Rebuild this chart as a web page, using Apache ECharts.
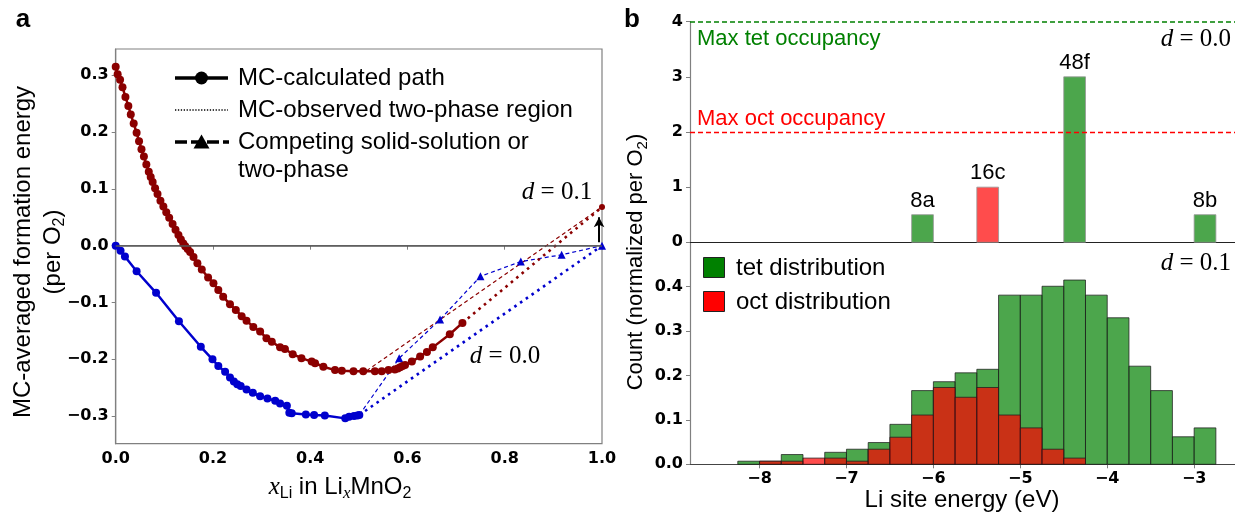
<!DOCTYPE html>
<html>
<head>
<meta charset="utf-8">
<script src="https://cdn.jsdelivr.net/npm/echarts@6/dist/echarts.min.js"></script>
<style>
  html, body { margin: 0; padding: 0; background: #fff; }
  #chart { width: 1235px; height: 516px; }
</style>
</head>
<body>
<div id="chart"></div>
<script>
// ---------- Panel a: MC-averaged formation energy vs Li content ----------
const redPath = [
  [0.000, 0.315], [0.004, 0.302], [0.009, 0.292], [0.014, 0.279], [0.020, 0.262],
  [0.026, 0.246], [0.031, 0.231], [0.037, 0.215], [0.043, 0.199], [0.048, 0.184],
  [0.053, 0.170], [0.058, 0.157], [0.063, 0.143], [0.068, 0.130], [0.072, 0.121],
  [0.076, 0.112], [0.081, 0.101], [0.086, 0.091], [0.092, 0.079], [0.098, 0.069],
  [0.104, 0.059], [0.110, 0.049], [0.117, 0.038], [0.123, 0.028], [0.129, 0.019],
  [0.134, 0.011], [0.139, 0.004], [0.143, -0.001], [0.148, -0.006], [0.153, -0.011],
  [0.160, -0.020], [0.168, -0.031], [0.177, -0.042], [0.190, -0.056], [0.201, -0.066],
  [0.211, -0.078], [0.221, -0.090], [0.235, -0.103], [0.247, -0.113], [0.259, -0.124],
  [0.269, -0.132], [0.283, -0.143], [0.297, -0.151], [0.310, -0.163], [0.321, -0.169],
  [0.338, -0.179], [0.348, -0.182], [0.364, -0.191], [0.382, -0.198], [0.403, -0.204],
  [0.410, -0.207], [0.427, -0.213], [0.451, -0.219], [0.465, -0.220], [0.489, -0.221],
  [0.509, -0.221], [0.533, -0.221], [0.547, -0.221], [0.561, -0.219], [0.574, -0.218],
  [0.580, -0.216], [0.585, -0.214], [0.590, -0.212], [0.595, -0.210], [0.609, -0.204],
  [0.626, -0.195], [0.640, -0.187], [0.652, -0.179], [0.687, -0.156], [0.713, -0.136]
];
const bluePath = [
  [0.000, 0.000], [0.010, -0.009], [0.019, -0.019], [0.043, -0.045], [0.083, -0.083],
  [0.130, -0.133], [0.175, -0.178], [0.199, -0.200], [0.211, -0.212], [0.225, -0.222],
  [0.235, -0.232], [0.243, -0.239], [0.250, -0.244], [0.257, -0.247], [0.269, -0.253],
  [0.282, -0.259], [0.297, -0.265], [0.312, -0.269], [0.328, -0.273], [0.338, -0.278],
  [0.352, -0.282], [0.357, -0.294], [0.362, -0.295], [0.391, -0.297], [0.408, -0.298],
  [0.430, -0.299], [0.472, -0.304], [0.480, -0.301], [0.490, -0.300], [0.497, -0.299],
  [0.501, -0.298]
];
const redTwoPhase = [[0.713, -0.136], [1.000, 0.068]];
const blueTwoPhase = [[0.501, -0.298], [1.000, 0.000]];
const blueCompeting = [
  [0.501, -0.298], [0.583, -0.198], [0.667, -0.130], [0.750, -0.054],
  [0.833, -0.028], [0.917, -0.016], [1.000, 0.000]
];
const redCompeting = [[0.516, -0.220], [1.000, 0.068]];
const shiftArrow = [[0.994, 0.006], [0.994, 0.050]];
const xTicksA = [0, 0.2, 0.4, 0.6, 0.8, 1.0];
const yTicksA = [-0.3, -0.2, -0.1, 0.0, 0.1, 0.2, 0.3];

// ---------- Panel b: Li site energy distributions ----------
const siteBins = [[-6.25, -6.0], [-5.5, -5.25], [-4.5, -4.25], [-3.0, -2.75]];
const siteOccupancy = [0.5, 1, 3, 0.5];
const siteNames = ['8a', '16c', '48f', '8b'];
const siteKinds = ['tet', 'oct', 'tet', 'tet'];
const maxTetOccupancy = 4;
const maxOctOccupancy = 2;

const binEdges = [
  -8.25, -8.0, -7.75, -7.5, -7.25, -7.0, -6.75, -6.5, -6.25, -6.0, -5.75, -5.5,
  -5.25, -5.0, -4.75, -4.5, -4.25, -4.0, -3.75, -3.5, -3.25, -3.0, -2.75
];
const tetCounts = [
  0.007, 0.007, 0.022, 0.000, 0.027, 0.034, 0.049, 0.090, 0.166, 0.186, 0.206,
  0.214, 0.381, 0.381, 0.401, 0.415, 0.381, 0.330, 0.221, 0.166, 0.062, 0.082
];
const octCounts = [
  0.000, 0.007, 0.007, 0.014, 0.014, 0.007, 0.034, 0.061, 0.111, 0.173, 0.151,
  0.173, 0.111, 0.082, 0.034, 0.014, 0.000, 0.000, 0.000, 0.000, 0.000, 0.000
];
const xTicksB = [-8, -7, -6, -5, -4, -3];
const yTicksTop = [0, 1, 2, 3, 4];
const yTicksBottom = [0.0, 0.1, 0.2, 0.3, 0.4];

// ---------- styling ----------
const RED = '#8b0000';
const BLUE = '#0000cd';
const SANS = '"Liberation Sans", Arial, sans-serif';
const SERIF = '"Liberation Serif", "Times New Roman", serif';
const TICK_FONT = { fontFamily: 'DejaVu Sans', fontWeight: 'bold', fontSize: 16, color: '#000' };
const SPINE = '#808080';
const minus = v => (v < 0 ? '\u2212' : '') + Math.abs(v);
const fmt1 = v => (v < -1e-9 ? '\u2212' : '') + Math.abs(v).toFixed(1);

const chart = echarts.init(document.getElementById('chart'), null, { renderer: 'canvas' });

function histRenderer(fill, stroke) {
  return function (params, api) {
    const h = api.value(2);
    if (!(h > 0)) return null;
    const a = api.coord([api.value(0), 0]);
    const b = api.coord([api.value(1), h]);
    return {
      type: 'rect',
      shape: { x: a[0], y: b[1], width: b[0] - a[0], height: a[1] - b[1] },
      style: { fill: fill, stroke: stroke, lineWidth: 1 }
    };
  };
}

function siteRenderer(params, api) {
  const i = api.value(3);
  const a = api.coord([api.value(0), 0]);
  const b = api.coord([api.value(1), api.value(2)]);
  const fill = siteKinds[i] === 'tet' ? 'rgba(0,128,0,0.7)' : 'rgba(255,0,0,0.7)';
  return {
    type: 'group',
    children: [
      {
        type: 'rect',
        shape: { x: a[0], y: b[1], width: b[0] - a[0], height: a[1] - b[1] },
        style: { fill: fill, stroke: 'rgba(150,150,150,0.8)', lineWidth: 1 }
      },
      {
        type: 'text',
        x: (a[0] + b[0]) / 2,
        y: b[1] - 3,
        style: {
          text: siteNames[i], font: '22px ' + SANS, fill: '#000',
          align: 'center', verticalAlign: 'bottom',
          textAlign: 'center', textVerticalAlign: 'bottom'
        }
      }
    ]
  };
}

const subRich = {
  n: { fontFamily: 'Liberation Sans', fontSize: 24, lineHeight: 30, color: '#000' },
  s: { fontFamily: 'Liberation Sans', fontSize: 16, lineHeight: 16, verticalAlign: 'bottom', color: '#000' },
  i: { fontFamily: 'Liberation Serif', fontStyle: 'italic', fontSize: 25, lineHeight: 30, color: '#000' },
  is: { fontFamily: 'Liberation Serif', fontStyle: 'italic', fontSize: 17, lineHeight: 16, verticalAlign: 'bottom', color: '#000' }
};

function txt(x, y, text, font, fill, align, extra) {
  return Object.assign({
    type: 'text', x: x, y: y, silent: true,
    style: {
      text: text, font: font, fill: fill,
      align: align || 'left', verticalAlign: 'middle',
      textAlign: align || 'left', textVerticalAlign: 'middle'
    }
  }, extra || {});
}

function dLabel(x, y, value, color, align) {
  return {
    type: 'text', x: x, y: y, silent: true,
    style: {
      text: '{i|d}{n| = ' + value + '}',
      align: align, verticalAlign: 'middle', textAlign: align, textVerticalAlign: 'middle',
      rich: {
        i: { fontFamily: 'Liberation Serif', fontStyle: 'italic', fontSize: 25, color: color },
        n: { fontFamily: 'Liberation Serif', fontSize: 25, color: color }
      }
    }
  };
}

const option = {
  backgroundColor: '#fff',
  animation: false,
  grid: [
    { left: 115.7, top: 49, width: 486.3, height: 394.7, show: true, borderColor: SPINE, borderWidth: 1.2, backgroundColor: 'transparent' },
    { left: 690, top: 21.7, width: 545, height: 220.6 },
    { left: 690, top: 242.3, width: 545, height: 222 }
  ],
  xAxis: [
    {
      gridIndex: 0, type: 'value', min: 0, max: 1, interval: 0.2,
      axisLine: { lineStyle: { color: SPINE, width: 1.2 } },
      axisTick: { length: 4, lineStyle: { color: SPINE } },
      axisLabel: Object.assign({ margin: 7, formatter: fmt1 }, TICK_FONT),
      splitLine: { show: false }
    },
    {
      gridIndex: 1, type: 'value', min: -8.8, max: -2.53,
      axisLine: { lineStyle: { color: '#222', width: 1.2 } },
      axisTick: { show: false }, axisLabel: { show: false }, splitLine: { show: false }
    },
    {
      gridIndex: 2, type: 'value', min: -8.8, max: -2.53,
      axisLine: { lineStyle: { color: '#444', width: 1.2 } },
      axisTick: { length: 4, lineStyle: { color: SPINE }, customValues: xTicksB },
      axisLabel: Object.assign({ margin: 7, formatter: minus, customValues: xTicksB }, TICK_FONT),
      splitLine: { show: false }
    }
  ],
  yAxis: [
    {
      gridIndex: 0, type: 'value', min: -0.3486, max: 0.3463,
      axisLine: { show: true, lineStyle: { color: SPINE, width: 1.2 } },
      axisTick: { show: true, length: 4, lineStyle: { color: SPINE }, customValues: yTicksA },
      axisLabel: Object.assign({ margin: 7, formatter: fmt1, customValues: yTicksA }, TICK_FONT),
      splitLine: { show: false }
    },
    {
      gridIndex: 1, type: 'value', min: 0, max: 4, interval: 1,
      axisLine: { show: true, lineStyle: { color: SPINE, width: 1.2 } },
      axisTick: { show: true, length: 4, lineStyle: { color: SPINE }, customValues: yTicksTop },
      axisLabel: Object.assign({ margin: 7, customValues: yTicksTop }, TICK_FONT),
      splitLine: { show: false }
    },
    {
      gridIndex: 2, type: 'value', min: 0, max: 0.5,
      axisLine: { show: true, lineStyle: { color: SPINE, width: 1.2 } },
      axisTick: { show: true, length: 4, lineStyle: { color: SPINE }, customValues: yTicksBottom },
      axisLabel: Object.assign({ margin: 7, formatter: fmt1, customValues: yTicksBottom }, TICK_FONT),
      splitLine: { show: false }
    }
  ],
  series: [
    // competing solid-solution / two-phase paths
    {
      type: 'line', xAxisIndex: 0, yAxisIndex: 0, data: redCompeting, z: 3,
      showSymbol: false, symbol: 'none',
      lineStyle: { color: RED, width: 1.2, type: [4, 3] },
      markLine: {
        silent: true, symbol: 'none', label: { show: false },
        lineStyle: { color: '#555', width: 1.5, type: 'solid' },
        data: [{ yAxis: 0 }]
      }
    },
    {
      type: 'line', xAxisIndex: 0, yAxisIndex: 0, z: 3,
      data: blueCompeting.map((p, i) => i === 0 ? { value: p, symbol: 'none' } : p),
      symbol: 'triangle', symbolSize: 8,
      itemStyle: { color: BLUE },
      lineStyle: { color: BLUE, width: 1.2, type: [4, 3] }
    },
    // MC-observed two-phase regions
    {
      type: 'line', xAxisIndex: 0, yAxisIndex: 0, z: 3,
      data: redTwoPhase.map((p, i) => i === 0 ? { value: p, symbol: 'none' } : p),
      symbol: 'circle', symbolSize: 6, itemStyle: { color: RED },
      lineStyle: { color: RED, width: 2.6, type: [2.6, 4.4] }
    },
    {
      type: 'line', xAxisIndex: 0, yAxisIndex: 0, z: 3,
      data: blueTwoPhase, showSymbol: false, symbol: 'none',
      lineStyle: { color: BLUE, width: 2.6, type: [2.6, 4.4] },
      markLine: {
        silent: true, symbol: ['none', 'arrow'], symbolSize: [8, 10], label: { show: false },
        lineStyle: { color: '#000', width: 2, type: 'solid' },
        data: [[{ coord: shiftArrow[0] }, { coord: shiftArrow[1] }]]
      }
    },
    // MC-calculated paths
    {
      type: 'line', xAxisIndex: 0, yAxisIndex: 0, data: redPath, z: 4,
      symbol: 'circle', symbolSize: 8, itemStyle: { color: RED },
      lineStyle: { color: RED, width: 2.5 }
    },
    {
      type: 'line', xAxisIndex: 0, yAxisIndex: 0, data: bluePath, z: 4,
      symbol: 'circle', symbolSize: 8, itemStyle: { color: BLUE },
      lineStyle: { color: BLUE, width: 2.5 }
    },
    // d = 0.0 site occupancies
    {
      type: 'custom', xAxisIndex: 1, yAxisIndex: 1,
      data: siteBins.map((b, i) => [b[0], b[1], siteOccupancy[i], i]),
      encode: { x: [0, 1], y: 2 },
      renderItem: siteRenderer,
      markLine: {
        silent: true, symbol: 'none', label: { show: false },
        data: [
          { yAxis: maxTetOccupancy, lineStyle: { color: '#008000', width: 1.6, type: [5, 3] } },
          { yAxis: maxOctOccupancy, lineStyle: { color: '#ff0000', width: 1.3, type: [5, 3] } }
        ]
      }
    },
    // d = 0.1 site energy distributions
    {
      type: 'custom', xAxisIndex: 2, yAxisIndex: 2,
      data: tetCounts.map((v, i) => [binEdges[i], binEdges[i + 1], v]),
      encode: { x: [0, 1], y: 2 },
      renderItem: histRenderer('rgba(0,128,0,0.7)', 'rgba(30,30,30,0.75)')
    },
    {
      type: 'custom', xAxisIndex: 2, yAxisIndex: 2,
      data: octCounts.map((v, i) => [binEdges[i], binEdges[i + 1], v]),
      encode: { x: [0, 1], y: 2 },
      renderItem: histRenderer('rgba(255,0,0,0.7)', 'rgba(30,30,30,0.75)')
    }
  ],
  graphic: [
    // panel letters
    txt(23, 20, 'a', 'bold 26px ' + SANS, '#000', 'center'),
    txt(632, 20, 'b', 'bold 26px ' + SANS, '#000', 'center'),

    // panel a axis titles
    txt(23, 252, 'MC-averaged formation energy', '24px ' + SANS, '#000', 'center', { rotation: Math.PI / 2 }),
    {
      type: 'text', x: 53, y: 252, rotation: Math.PI / 2, silent: true,
      style: {
        text: '{n|(per O}{s|2}{n|)}', rich: subRich,
        align: 'center', verticalAlign: 'middle', textAlign: 'center', textVerticalAlign: 'middle'
      }
    },
    {
      type: 'text', x: 340, y: 487, silent: true,
      style: {
        text: '{i|x}{s|Li}{n| in Li}{is|x}{n|MnO}{s|2}', rich: subRich,
        align: 'center', verticalAlign: 'middle', textAlign: 'center', textVerticalAlign: 'middle'
      }
    },

    // panel a legend
    { type: 'line', silent: true, shape: { x1: 175, y1: 78, x2: 228, y2: 78 }, style: { stroke: '#000', lineWidth: 3.5 } },
    { type: 'circle', silent: true, shape: { cx: 201.5, cy: 78, r: 6.5 }, style: { fill: '#000' } },
    { type: 'line', silent: true, shape: { x1: 175, y1: 110, x2: 228, y2: 110 }, style: { stroke: '#000', lineWidth: 1.3, lineDash: [1.3, 1.6] } },
    { type: 'line', silent: true, shape: { x1: 175, y1: 142, x2: 229, y2: 142 }, style: { stroke: '#000', lineWidth: 3.5, lineDash: [12, 4] } },
    { type: 'polygon', silent: true, shape: { points: [[193.5, 148.5], [209.5, 148.5], [201.5, 134.5]] }, style: { fill: '#000' } },
    txt(238, 78, 'MC-calculated path', '24px ' + SANS, '#000'),
    txt(238, 110, 'MC-observed two-phase region', '24px ' + SANS, '#000'),
    txt(238, 142, 'Competing solid-solution or', '24px ' + SANS, '#000'),
    txt(238, 170, 'two-phase', '24px ' + SANS, '#000'),

    // panel a curve labels
    dLabel(557, 192, '0.1', RED, 'center'),
    dLabel(505, 356, '0.0', BLUE, 'center'),

    // panel b annotations
    txt(697, 39, 'Max tet occupancy', '22px ' + SANS, '#008000'),
    txt(697, 119, 'Max oct occupancy', '22px ' + SANS, '#ff0000'),
    dLabel(1231, 39, '0.0', '#000', 'right'),
    dLabel(1231, 263, '0.1', '#000', 'right'),

    // panel b legend
    { type: 'rect', silent: true, shape: { x: 703.5, y: 257.5, width: 21, height: 20 }, style: { fill: '#008000', stroke: '#222', lineWidth: 1 } },
    { type: 'rect', silent: true, shape: { x: 703.5, y: 291.5, width: 21, height: 20 }, style: { fill: '#ff0000', stroke: '#222', lineWidth: 1 } },
    txt(736, 268, 'tet distribution', '24px ' + SANS, '#000'),
    txt(736, 302, 'oct distribution', '24px ' + SANS, '#000'),

    // panel b axis titles
    {
      type: 'text', x: 636, y: 262, rotation: Math.PI / 2, silent: true,
      style: {
        text: '{n|Count (normalized per O}{s|2}{n|)}',
        rich: {
          n: { fontFamily: 'Liberation Sans', fontSize: 22, lineHeight: 28, color: '#000' },
          s: { fontFamily: 'Liberation Sans', fontSize: 15, lineHeight: 15, verticalAlign: 'bottom', color: '#000' }
        },
        align: 'center', verticalAlign: 'middle', textAlign: 'center', textVerticalAlign: 'middle'
      }
    },
    txt(962, 500, 'Li site energy (eV)', '24px ' + SANS, '#000', 'center')
  ]
};

chart.setOption(option);
</script>
</body>
</html>
